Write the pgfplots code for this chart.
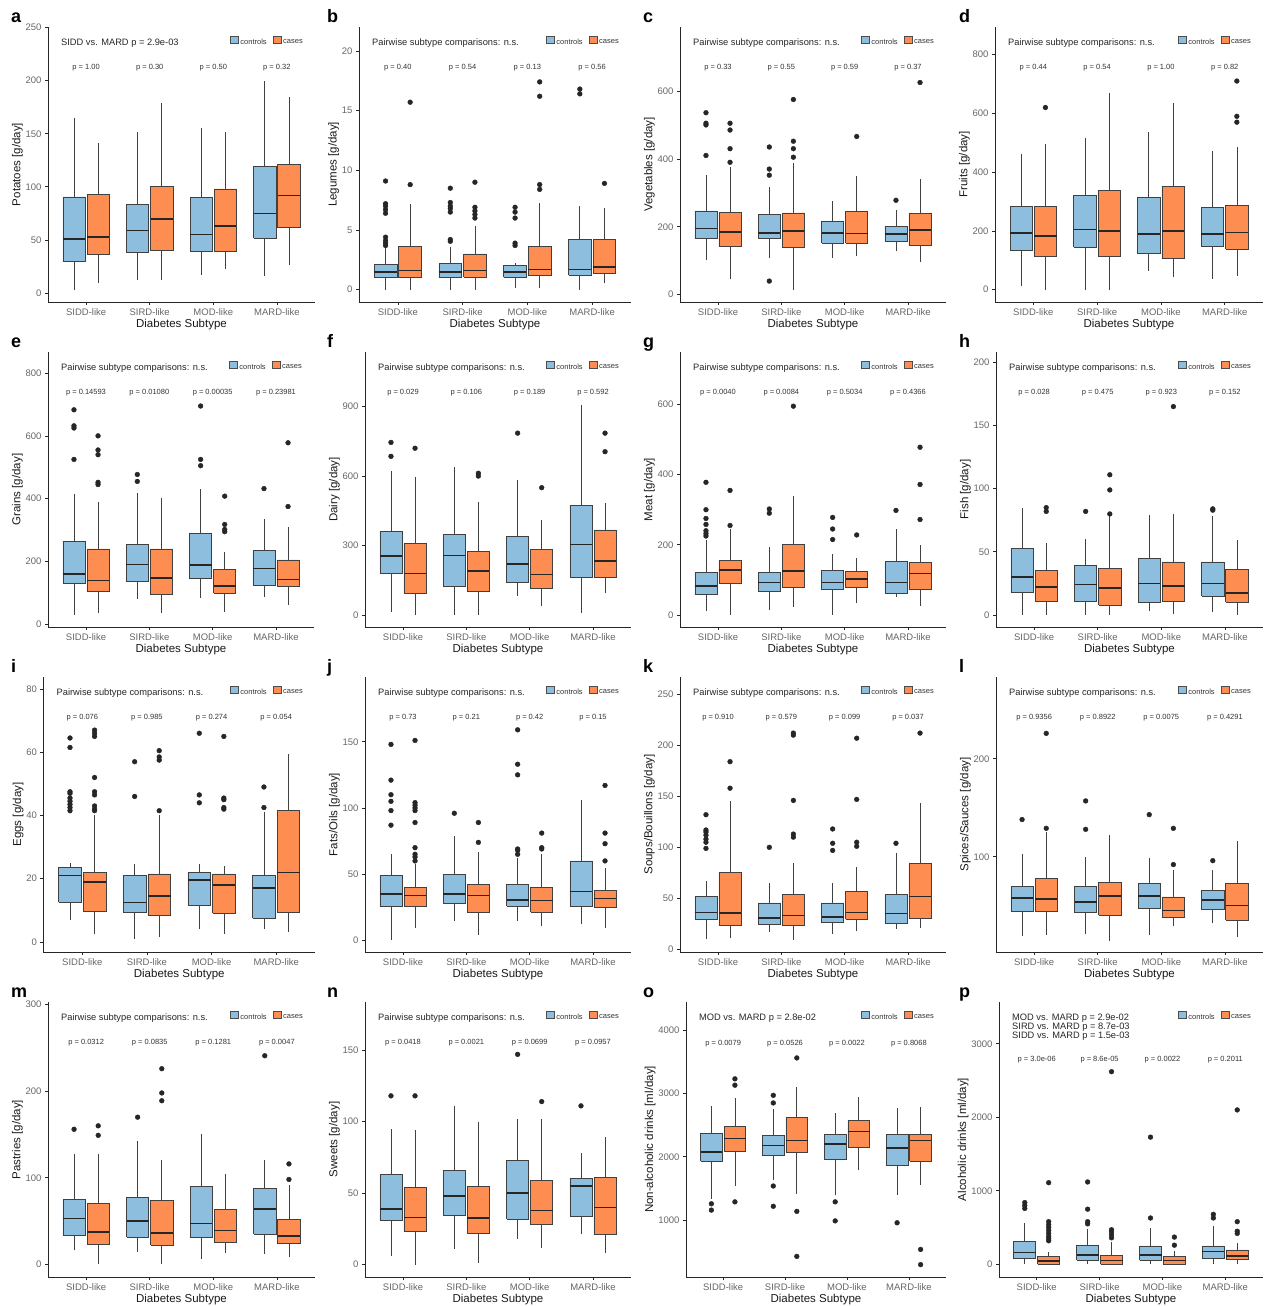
\documentclass[border=0pt]{standalone}
\usepackage{fontspec}
\setmainfont{Liberation Sans}
\usepackage{pgfplots}
\pgfplotsset{compat=1.18}
\definecolor{ctrl}{RGB}{141,190,222}
\definecolor{cas}{RGB}{253,141,80}
\pgfplotsset{
  legc/.style={legend image code/.code={\draw[fill=ctrl,draw=black!70,line width=0.5pt] (0pt,-0.8pt) rectangle (8pt,5.8pt);}},
  legk/.style={legend image code/.code={\draw[fill=cas,draw=black!70,line width=0.5pt] (0pt,-0.8pt) rectangle (8pt,5.8pt);}},
  wsk/.style={draw=black!75, line width=0.7pt, mark=none},
  med/.style={draw=black!85, line width=1.6pt, mark=none},
  outl/.style={only marks, mark=*, mark size=2.4pt, mark options={draw=black!85, fill=black!85}},
  gg/.style={scale only axis, height=275pt, anchor=south west,
    xmin=0.4, xmax=4.6, axis lines=left, axis line style={-, black!85, line width=0.8pt},
    xtick={1,2,3,4}, xticklabels={SIDD-like,SIRD-like,MOD-like,MARD-like},
    tick align=outside, major tick length=3pt, tick style={black!85, line width=0.7pt},
    minor tick num=0,
    ticklabel style={font=\fontsize{9.5}{10}\selectfont, text=black!60},
    /pgf/number format/assume math mode=true, /pgf/number format/1000 sep={},
    scaled ticks=false,
    xlabel={Diabetes Subtype},
    label style={font=\fontsize{11.5}{12}\selectfont, text=black!90},
    xlabel style={yshift=3pt},
    ylabel shift=-4pt,
    clip=false,
    legend style={at={(1,1)}, anchor=north east, xshift=-10pt, yshift=-9pt,
      draw=none, fill=none, inner sep=0pt, font=\fontsize{7.5}{8}\selectfont, text=black!80,
      legend columns=2, /tikz/every even column/.append style={column sep=4pt}},
  }
}
\newcommand{\bn}[7]{%
  \pgfmathsetmacro\xa{#1-0.175}\pgfmathsetmacro\xb{#1+0.175}%
  \addplot[wsk] coordinates {(#1,#3)(#1,#4)};
  \addplot[wsk] coordinates {(#1,#6)(#1,#7)};
  \addplot[wsk, fill=#2] coordinates {(\xa,#4)(\xb,#4)(\xb,#6)(\xa,#6)(\xa,#4)};
  \addplot[med] coordinates {(\xa,#5)(\xb,#5)};}
\newcommand{\bx}[8]{\bn{#1}{#2}{#3}{#4}{#5}{#6}{#7}\addplot[outl] table[row sep=\\, x expr=#1, y index=0] {y\\ #8};}
\newcommand{\leg}{\addlegendimage{legc}\addlegendentry{controls}\addlegendimage{legk}\addlegendentry{cases}}
\newcommand{\ttl}[1]{\node[anchor=west, font=\fontsize{9.3}{10}\selectfont, text=black!85, inner sep=0pt, xshift=13pt] at (rel axis cs:0,0.942) {#1};}
\newcommand{\pv}[5]{%
  \node[font=\fontsize{7.5}{8}\selectfont, text=black!80, inner sep=0pt] at (rel axis cs:0.142857,#1) {p = #2};
  \node[font=\fontsize{7.5}{8}\selectfont, text=black!80, inner sep=0pt] at (rel axis cs:0.380952,#1) {p = #3};
  \node[font=\fontsize{7.5}{8}\selectfont, text=black!80, inner sep=0pt] at (rel axis cs:0.619048,#1) {p = #4};
  \node[font=\fontsize{7.5}{8}\selectfont, text=black!80, inner sep=0pt] at (rel axis cs:0.857143,#1) {p = #5};}
\newcommand{\lett}[3]{\node[anchor=base west, font=\fontsize{18}{18}\selectfont\bfseries, inner sep=0pt] at (#1pt,#2pt) {#3};}
\begin{document}
\begin{tikzpicture}
\useasboundingbox (0,0) rectangle (1264pt,1306pt);
\lett{11}{1283}{a}\lett{327}{1283}{b}\lett{643}{1283}{c}\lett{959}{1283}{d}
\lett{11}{958}{e}\lett{327}{958}{f}\lett{643}{958}{g}\lett{959}{958}{h}
\lett{11}{633}{i}\lett{327}{633}{j}\lett{643}{633}{k}\lett{959}{633}{l}
\lett{11}{308}{m}\lett{327}{308}{n}\lett{643}{308}{o}\lett{959}{308}{p}

% ---------- a
\begin{axis}[gg, at={(48pt,1004pt)}, width=267pt, ymin=-8.5, ymax=250.6, ytick={0,50,...,250}, ylabel={Potatoes [g/day]}]
\leg
\bn{0.81}{ctrl}{3}{30}{51}{90.5}{165}
\bn{1.19}{cas}{9.5}{36}{52.5}{93}{141}
\bn{1.81}{ctrl}{12.5}{38}{59}{83.5}{152}
\bn{2.19}{cas}{12}{40}{69.5}{100.5}{179}
\bn{2.81}{ctrl}{17}{39.5}{55}{90}{155}
\bn{3.19}{cas}{22.5}{39.5}{63}{98}{152}
\bn{3.81}{ctrl}{16}{51.5}{75}{119}{200}
\bn{4.19}{cas}{26}{61.5}{92}{121}{185}
\ttl{SIDD vs. MARD p = 2.9e-03}
\pv{0.852}{1.00}{0.30}{0.50}{0.32}
\end{axis}
% ---------- b
\begin{axis}[gg, at={(359pt,1004pt)}, width=272pt, ymin=-1.03, ymax=22.0, ytick={0,5,...,20}, ylabel={Legumes [g/day]}]
\leg
\bx{0.81}{ctrl}{0}{1.05}{1.5}{2.15}{3.5}{3.7\\3.9\\4.1\\4.4\\6.4\\6.7\\7.0\\7.2\\9.1\\}
\bx{1.19}{cas}{0}{1.0}{1.6}{3.6}{7.2}{8.8\\15.7\\}
\bx{1.81}{ctrl}{0}{1.0}{1.5}{2.2}{3.6}{4.05\\4.2\\6.5\\6.8\\7.0\\7.3\\8.5\\}
\bx{2.19}{cas}{0}{1.05}{1.6}{3.0}{5.3}{6.0\\6.3\\6.6\\6.9\\9.0\\}
\bx{2.81}{ctrl}{0.1}{1.05}{1.5}{2.0}{2.2}{3.7\\3.9\\6.0\\6.5\\6.9\\}
\bx{3.19}{cas}{0.1}{1.2}{1.7}{3.65}{7.3}{8.4\\8.8\\16.2\\17.4\\}
\bx{3.81}{ctrl}{0}{1.2}{1.7}{4.2}{7.0}{16.4\\16.8\\}
\bx{4.19}{cas}{0.6}{1.35}{1.9}{4.2}{6.8}{8.9\\}
\ttl{Pairwise subtype comparisons: n.s.}
\pv{0.852}{0.40}{0.54}{0.13}{0.56}
\end{axis}
% ---------- c
\begin{axis}[gg, at={(680pt,1004pt)}, width=266pt, ymin=-21.6, ymax=788.6, ytick={0,200,400,600}, ylabel={Vegetables [g/day]}]
\leg
\bx{0.81}{ctrl}{101}{165}{194.5}{246.5}{352}{410\\500\\505\\536\\}
\bx{1.19}{cas}{45}{143}{185}{241.6}{375}{390\\430\\485\\505\\}
\bx{1.81}{ctrl}{108}{165}{182}{236}{318}{40\\352\\370\\435\\}
\bx{2.19}{cas}{14}{138}{187}{241}{388}{405\\430\\452\\575\\}
\bn{2.81}{ctrl}{108}{152}{182}{215}{276}
\bx{3.19}{cas}{115}{152}{180}{246}{350}{466\\}
\bx{3.81}{ctrl}{130}{158}{178}{201}{250}{278\\}
\bx{4.19}{cas}{95}{145}{190}{240}{340}{625\\}
\ttl{Pairwise subtype comparisons: n.s.}
\pv{0.852}{0.33}{0.55}{0.59}{0.37}
\end{axis}
% ---------- d
\begin{axis}[gg, at={(995pt,1004pt)}, width=268pt, ymin=-41.9, ymax=894, ytick={0,200,...,800}, ylabel={Fruits [g/day]}]
\leg
\bn{0.81}{ctrl}{13}{135}{193}{283}{463}
\bx{1.19}{cas}{0}{112}{183}{283}{495}{620\\}
\bn{1.81}{ctrl}{0}{145}{205}{320}{515}
\bn{2.19}{cas}{0}{113}{200}{338}{670}
\bn{2.81}{ctrl}{65}{122}{190}{315}{535}
\bn{3.19}{cas}{42}{105}{200}{352}{635}
\bn{3.81}{ctrl}{38}{148}{190}{280}{472}
\bx{4.19}{cas}{47}{137}{195}{287}{485}{570\\590\\710\\}
\ttl{Pairwise subtype comparisons: n.s.}
\pv{0.852}{0.44}{0.54}{1.00}{0.82}
\end{axis}
% ---------- e
\begin{axis}[gg, at={(48pt,679pt)}, width=266pt, ymin=-8.5, ymax=867, ytick={0,200,...,800}, ylabel={Grains [g/day]}]
\leg
\bx{0.81}{ctrl}{30}{130}{160}{265}{415}{525\\625\\632\\683\\}
\bx{1.19}{cas}{35}{105}{140}{240}{390}{445\\452\\540\\555\\600\\}
\bx{1.81}{ctrl}{80}{138}{190}{255}{418}{455\\477\\}
\bn{2.19}{cas}{35}{95}{148}{240}{402}
\bx{2.81}{ctrl}{85}{145}{188}{290}{432}{505\\525\\695\\}
\bx{3.19}{cas}{40}{100}{122}{175}{230}{295\\302\\318\\408\\}
\bx{3.81}{ctrl}{88}{125}{178}{235}{335}{432\\}
\bx{4.19}{cas}{63}{120}{143}{205}{310}{375\\578\\}
\ttl{Pairwise subtype comparisons: n.s.}
\pv{0.852}{0.14593}{0.01080}{0.00035}{0.23981}
\end{axis}
% ---------- f
\begin{axis}[gg, at={(365pt,679pt)}, width=266pt, ymin=-50.4, ymax=1134.7, ytick={0,300,600,900}, ylabel={Dairy [g/day]}]
\leg
\bx{0.81}{ctrl}{15}{180}{255}{362}{620}{685\\745\\}
\bx{1.19}{cas}{0}{95}{180}{308}{595}{720\\}
\bn{1.81}{ctrl}{0}{125}{258}{350}{640}
\bx{2.19}{cas}{0}{105}{192}{275}{490}{600\\612\\}
\bx{2.81}{ctrl}{85}{140}{220}{340}{585}{785\\}
\bx{3.19}{cas}{40}{115}{175}{285}{410}{550\\}
\bn{3.81}{ctrl}{10}{165}{305}{475}{905}
\bx{4.19}{cas}{95}{165}{235}{368}{485}{705\\785\\}
\ttl{Pairwise subtype comparisons: n.s.}
\pv{0.852}{0.029}{0.106}{0.189}{0.592}
\end{axis}
% ---------- g
\begin{axis}[gg, at={(680pt,679pt)}, width=266pt, ymin=-34.3, ymax=749.5, ytick={0,200,400,600}, ylabel={Meat [g/day]}]
\leg
\bx{0.81}{ctrl}{12}{58}{83}{122}{215}{225\\232\\240\\258\\275\\300\\378\\}
\bx{1.19}{cas}{0}{90}{128}{155}{245}{255\\355\\}
\bx{1.81}{ctrl}{15}{68}{93}{122}{195}{290\\302\\}
\bx{2.19}{cas}{22}{78}{125}{200}{340}{595\\}
\bx{2.81}{ctrl}{0}{72}{92}{128}{175}{215\\245\\278\\}
\bx{3.19}{cas}{35}{78}{102}{125}{162}{228\\}
\bx{3.81}{ctrl}{50}{62}{92}{152}{245}{298\\}
\bx{4.19}{cas}{25}{72}{118}{150}{200}{272\\372\\478\\}
\ttl{Pairwise subtype comparisons: n.s.}
\pv{0.852}{0.0040}{0.0084}{0.5034}{0.4366}
\end{axis}
% ---------- h
\begin{axis}[gg, at={(996pt,679pt)}, width=267pt, ymin=-9.5, ymax=208.2, ytick={0,50,...,200}, ylabel={Fish [g/day]}]
\leg
\bn{0.81}{ctrl}{0}{18}{30}{53}{85}
\bx{1.19}{cas}{0}{11}{22}{35}{57}{82\\85\\}
\bx{1.81}{ctrl}{0}{10.5}{24}{39}{60}{82\\}
\bx{2.19}{cas}{0}{8}{21.5}{37}{78}{80\\99\\111\\}
\bn{2.81}{ctrl}{3}{10}{25}{45}{79}
\bx{3.19}{cas}{1}{10.5}{23}{42}{80}{165\\}
\bx{3.81}{ctrl}{2}{15}{25}{42}{78}{83\\84\\}
\bn{4.19}{cas}{0}{10}{17.5}{36}{59}
\ttl{Pairwise subtype comparisons: n.s.}
\pv{0.852}{0.028}{0.475}{0.923}{0.152}
\end{axis}
% ---------- i
\begin{axis}[gg, at={(43.5pt,354pt)}, width=271.5pt, ymin=-3.2, ymax=83.8, ytick={0,20,...,80}, ylabel={Eggs [g/day]}]
\leg
\bx{0.81}{ctrl}{7}{12.5}{21}{23.5}{25}{41.5\\42.5\\43.5\\44.5\\45.5\\47\\47.5\\61.5\\64.5\\}
\bx{1.19}{cas}{2.5}{9.7}{19}{22}{40}{41.5\\42\\43\\46.5\\47.5\\52\\65\\66\\67\\}
\bx{1.81}{ctrl}{1}{9.5}{12.5}{21}{24.5}{46\\57\\}
\bx{2.19}{cas}{1.5}{8.5}{14.5}{21.5}{40}{41.5\\57.5\\58.5\\60.5\\}
\bx{2.81}{ctrl}{4}{11.5}{19.5}{22}{24.5}{44\\46.5\\66\\}
\bx{3.19}{cas}{2.5}{9}{18}{21.5}{24}{42\\42.5\\45\\45.5\\65\\}
\bx{3.81}{ctrl}{4}{7.5}{17}{21}{41}{42.5\\49\\}
\bn{4.19}{cas}{3}{9.5}{22}{41.5}{59.5}
\ttl{Pairwise subtype comparisons: n.s.}
\pv{0.852}{0.076}{0.985}{0.274}{0.054}
\end{axis}
% ---------- j
\begin{axis}[gg, at={(365pt,354pt)}, width=266pt, ymin=-8.8, ymax=198.9, ytick={0,50,100,150}, ylabel={Fats/Oils [g/day]}]
\leg
\bx{0.81}{ctrl}{0}{26}{35}{49}{65}{87\\98\\105\\110\\121\\148\\}
\bx{1.19}{cas}{9}{26}{34}{40}{58}{60\\63\\65\\70\\89\\98\\100\\102\\104\\151\\}
\bx{1.81}{ctrl}{14.5}{28}{35}{50}{79}{96\\}
\bx{2.19}{cas}{4}{21}{34}{42}{67}{74\\89\\}
\bx{2.81}{ctrl}{14.5}{26}{30.5}{42}{62}{65\\68\\69\\125\\133\\159\\}
\bx{3.19}{cas}{10.5}{21.5}{30}{40}{65}{69\\70\\81\\}
\bn{3.81}{ctrl}{12}{26}{37}{60}{106}
\bx{4.19}{cas}{9.5}{25}{31.5}{38}{55}{60\\73\\81\\117\\}
\ttl{Pairwise subtype comparisons: n.s.}
\pv{0.852}{0.73}{0.21}{0.42}{0.15}
\end{axis}
% ---------- k
\begin{axis}[gg, at={(680pt,354pt)}, width=266pt, ymin=-2.6, ymax=267, ytick={0,50,...,250}, ylabel={Soups/Bouillons [g/day]}]
\leg
\bx{0.81}{ctrl}{10.5}{29}{36}{52}{67}{99\\105\\108\\112\\115\\117\\132\\}
\bx{1.19}{cas}{11}{24}{35.5}{75}{145}{158\\184\\}
\bx{1.81}{ctrl}{17}{24.5}{31}{45.5}{65}{100\\}
\bx{2.19}{cas}{9}{24}{33}{53.5}{85}{110\\113\\146\\210\\212\\}
\bx{2.81}{ctrl}{15.5}{26}{32}{45.5}{65}{97\\104\\118\\}
\bx{3.19}{cas}{18}{29.5}{36}{57}{81}{101\\105\\147\\207\\}
\bx{3.81}{ctrl}{20}{25.5}{35}{53.5}{94}{104\\}
\bx{4.19}{cas}{21}{30}{52}{84}{143}{212\\}
\ttl{Pairwise subtype comparisons: n.s.}
\pv{0.852}{0.910}{0.579}{0.099}{0.037}
\end{axis}
% ---------- l
\begin{axis}[gg, at={(996pt,354pt)}, width=267pt, ymin=2.7, ymax=283.6, ytick={100,200}, ylabel={Spices/Sauces [g/day]}]
\leg
\bx{0.81}{ctrl}{19}{44}{58}{70}{103}{138\\}
\bx{1.19}{cas}{20}{44}{57}{78}{125}{129\\226\\}
\bx{1.81}{ctrl}{21}{43}{54}{70}{100}{128\\157\\}
\bn{2.19}{cas}{14}{40}{60}{74}{122}
\bx{2.81}{ctrl}{20}{47}{60}{73}{99}{143\\}
\bx{3.19}{cas}{29}{38}{45}{59}{86}{92\\129\\}
\bx{3.81}{ctrl}{32}{46}{56}{66}{86}{96\\}
\bn{4.19}{cas}{18}{35}{50}{73}{116}
\ttl{Pairwise subtype comparisons: n.s.}
\pv{0.852}{0.9356}{0.8922}{0.0075}{0.4291}
\end{axis}
% ---------- m
\begin{axis}[gg, at={(48pt,29pt)}, width=267pt, ymin=-14.7, ymax=303.1, ytick={0,100,200,300}, ylabel={Pastries [g/day]}]
\leg
\bx{0.81}{ctrl}{16}{34}{53}{75}{127}{156\\}
\bx{1.19}{cas}{0}{23}{37}{70}{127}{149\\160\\}
\bx{1.81}{ctrl}{14}{31}{50}{77}{143}{170\\}
\bx{2.19}{cas}{0}{22}{36}{74}{121}{189\\198\\226\\}
\bn{2.81}{ctrl}{6}{31}{47}{90}{151}
\bn{3.19}{cas}{13}{25}{39}{63}{104}
\bx{3.81}{ctrl}{12}{35}{64}{88}{120}{241\\}
\bx{4.19}{cas}{8}{24}{33}{52}{92}{98\\116\\}
\ttl{Pairwise subtype comparisons: n.s.}
\pv{0.852}{0.0312}{0.0835}{0.1281}{0.0047}
\end{axis}
% ---------- n
\begin{axis}[gg, at={(365pt,29pt)}, width=266pt, ymin=-8.6, ymax=183.6, ytick={0,50,100,150}, ylabel={Sweets [g/day]}]
\leg
\bx{0.81}{ctrl}{6}{31}{39}{63}{95}{118\\}
\bx{1.19}{cas}{0}{23}{33}{54}{94}{118\\}
\bn{1.81}{ctrl}{11}{34.5}{48}{66}{111}
\bn{2.19}{cas}{1.5}{22}{32.5}{54.5}{100}
\bx{2.81}{ctrl}{18}{32}{50}{73}{102}{147\\}
\bx{3.19}{cas}{12}{28}{38}{59}{102}{114\\}
\bx{3.81}{ctrl}{21.5}{33.5}{55}{60}{78}{111\\}
\bn{4.19}{cas}{8}{21}{40}{61}{89}
\ttl{Pairwise subtype comparisons: n.s.}
\pv{0.852}{0.0418}{0.0021}{0.0699}{0.0957}
\end{axis}
% ---------- o
\begin{axis}[gg, at={(686pt,29pt)}, width=260pt, ymin=105, ymax=4442, ytick={1000,2000,3000,4000}, ylabel={Non-alcoholic drinks [ml/day]}]
\leg
\bx{0.81}{ctrl}{1340}{1930}{2080}{2365}{2800}{1160\\1260\\}
\bx{1.19}{cas}{1540}{2090}{2290}{2480}{2930}{1290\\3130\\3230\\}
\bx{1.81}{ctrl}{1640}{2030}{2180}{2340}{2750}{1220\\1540\\2850\\2970\\}
\bx{2.19}{cas}{1420}{2070}{2260}{2620}{3100}{430\\1140\\3560\\}
\bx{2.81}{ctrl}{1400}{1960}{2200}{2350}{2690}{990\\1290\\}
\bn{3.19}{cas}{1790}{2150}{2400}{2570}{2940}
\bx{3.81}{ctrl}{1400}{1870}{2140}{2350}{2770}{960\\}
\bx{4.19}{cas}{1560}{1930}{2260}{2360}{2780}{300\\540\\}
\ttl{MOD vs. MARD p = 2.8e-02}
\pv{0.848}{0.0079}{0.0526}{0.0022}{0.8068}
\end{axis}
% ---------- p
\begin{axis}[gg, at={(999pt,29pt)}, width=264pt, ymin=-172.7, ymax=3568, ytick={0,1000,2000,3000}, ylabel={Alcoholic drinks [ml/day]}]
\leg
\bx{0.81}{ctrl}{0}{75}{160}{310}{560}{760\\800\\840\\}
\bx{1.19}{cas}{0}{0}{45}{110}{170}{320\\350\\380\\420\\460\\500\\540\\580\\1110\\}
\bx{1.81}{ctrl}{0}{60}{130}{260}{480}{550\\580\\750\\1120\\}
\bx{2.19}{cas}{0}{0}{50}{125}{300}{360\\400\\440\\470\\2620\\}
\bx{2.81}{ctrl}{0}{55}{130}{250}{500}{630\\1730\\}
\bx{3.19}{cas}{0}{5}{50}{110}{180}{260\\370\\}
\bx{3.81}{ctrl}{0}{75}{175}{250}{520}{630\\680\\}
\bx{4.19}{cas}{0}{65}{110}{195}{290}{420\\450\\580\\2100\\}
\node[anchor=west, font=\fontsize{9.3}{10}\selectfont, text=black!85, inner sep=0pt, xshift=13pt] at (rel axis cs:0,0.942) {MOD vs. MARD p = 2.9e-02};
\node[anchor=west, font=\fontsize{9.3}{10}\selectfont, text=black!85, inner sep=0pt, xshift=13pt] at (rel axis cs:0,0.909) {SIRD vs. MARD p = 8.7e-03};
\node[anchor=west, font=\fontsize{9.3}{10}\selectfont, text=black!85, inner sep=0pt, xshift=13pt] at (rel axis cs:0,0.876) {SIDD vs. MARD p = 1.5e-03};
\pv{0.792}{3.0e-06}{8.6e-05}{0.0022}{0.2011}
\end{axis}
\end{tikzpicture}
\end{document}
